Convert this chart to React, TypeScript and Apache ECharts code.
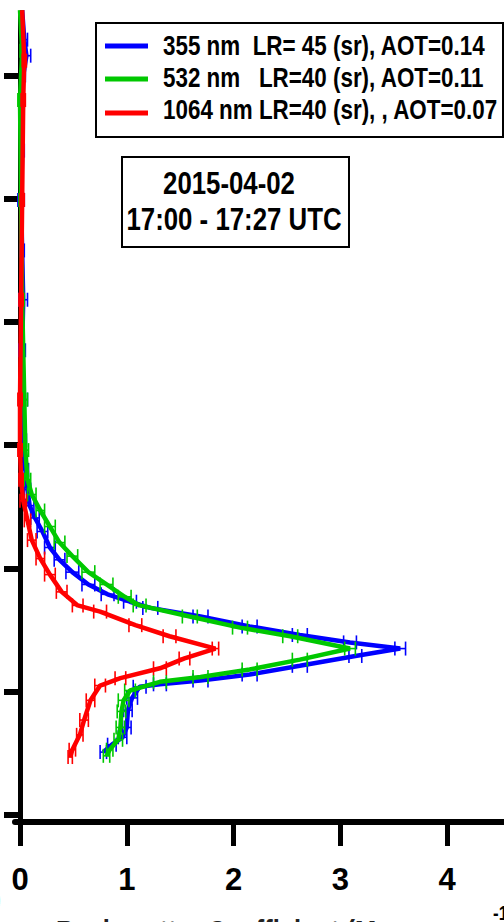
import React, { useEffect, useRef } from "react";
import * as echarts from "echarts";

// Series names (legend) and colours
const seriesNames = [
  "355 nm  LR= 45 (sr), AOT=0.14",
  "532 nm   LR=40 (sr), AOT=0.11",
  "1064 nm LR=40 (sr), , AOT=0.07",
];
const seriesColors = ["#0000ff", "#00c800", "#ff0000"];

// [backscatter (Mm-1 sr-1), altitude (km), error]
const profile355: number[][] = [
  [0.02, 7.53, 0], [0.04, 7.29, 0.03], [0.06, 7.16, 0.04], [0.03, 7.0, 0.02],
  [0.01, 6.8, 0.02], [0.02, 6.39, 0.02], [0.01, 5.99, 0.03], [0.02, 5.58, 0.02],
  [0.03, 5.18, 0.04], [0.02, 4.77, 0.03], [0.03, 4.37, 0.04], [0.03, 4.04, 0.03],
  [0.05, 3.8, 0.03], [0.07, 3.64, 0.03], [0.09, 3.51, 0.04], [0.14, 3.41, 0.04],
  [0.21, 3.3, 0.05], [0.28, 3.17, 0.05], [0.37, 3.07, 0.05], [0.49, 2.97, 0.06],
  [0.64, 2.87, 0.06], [0.82, 2.79, 0.06], [1.03, 2.73, 0.06], [1.22, 2.68, 0.07],
  [1.69, 2.61, 0.07], [2.15, 2.53, 0.07], [2.62, 2.46, 0.07], [3.09, 2.4, 0.06],
  [3.56, 2.35, 0.05], [3.14, 2.29, 0.06], [2.62, 2.21, 0.07], [2.15, 2.14, 0.07],
  [1.69, 2.09, 0.07], [1.31, 2.06, 0.06], [1.12, 2.04, 0.06], [1.05, 1.95, 0.05],
  [1.01, 1.85, 0.04], [1.0, 1.71, 0.04], [0.96, 1.63, 0.04], [0.86, 1.57, 0.04],
  [0.78, 1.51, 0.03],
];
const profile532: number[][] = [
  [0.0, 7.53, 0], [0.02, 7.2, 0.02], [0.0, 6.8, 0.02], [0.01, 5.99, 0.02],
  [0.02, 5.18, 0.02], [0.04, 4.37, 0.03], [0.05, 3.96, 0.03], [0.07, 3.72, 0.03],
  [0.11, 3.6, 0.04], [0.19, 3.47, 0.04], [0.28, 3.34, 0.05], [0.37, 3.21, 0.05],
  [0.49, 3.1, 0.05], [0.64, 2.97, 0.06], [0.81, 2.87, 0.06], [0.98, 2.77, 0.06],
  [1.12, 2.7, 0.06], [1.59, 2.61, 0.07], [2.06, 2.52, 0.07], [2.53, 2.45, 0.07],
  [3.09, 2.35, 0.05], [2.62, 2.26, 0.07], [2.15, 2.18, 0.07], [1.69, 2.12, 0.07],
  [1.31, 2.08, 0.06], [1.03, 2.01, 0.05], [0.97, 1.93, 0.05], [0.95, 1.84, 0.04],
  [0.94, 1.71, 0.04], [0.92, 1.61, 0.04], [0.84, 1.53, 0.03], [0.81, 1.48, 0.03],
];
const profile1064: number[][] = [
  [0.02, 7.53, 0], [0.04, 7.12, 0.02], [0.03, 6.8, 0.02], [0.02, 5.99, 0.02],
  [0.01, 5.18, 0.02], [0.0, 4.37, 0.02], [0.0, 3.96, 0.02], [0.01, 3.72, 0.02],
  [0.03, 3.55, 0.03], [0.07, 3.39, 0.03], [0.11, 3.23, 0.04], [0.19, 3.08, 0.04],
  [0.28, 2.95, 0.05], [0.39, 2.81, 0.05], [0.54, 2.7, 0.05], [0.75, 2.65, 0.06],
  [1.08, 2.54, 0.06], [1.4, 2.45, 0.06], [1.83, 2.35, 0.03], [1.54, 2.27, 0.05],
  [1.31, 2.19, 0.06], [0.94, 2.11, 0.05], [0.75, 2.05, 0.05], [0.66, 1.93, 0.04],
  [0.6, 1.77, 0.04], [0.56, 1.65, 0.03], [0.49, 1.53, 0.03], [0.47, 1.47, 0.02],
];

const xTickValues = [0, 1, 2, 3, 4, 5];
const xLabelValues = [0, 1, 2, 3, 4];
const yTickValues = [1, 2, 3, 4, 5, 6, 7];

const dateText = "2015-04-02";
const timeText = "17:00 - 17:27 UTC";
const xAxisTitle = "Backscatter Coefficient (Mm";
const xAxisTitleSup = "-1";

const FONT = "'Liberation Sans', Arial, sans-serif";

export default function App() {
  const ref = useRef<HTMLDivElement>(null);
  useEffect(() => {
    if (!ref.current) return;
    const chart = echarts.init(ref.current, undefined, { renderer: "svg" });
    const profiles = [profile355, profile532, profile1064];

    const lineSeries = profiles.map((p, i) => ({
      type: "line",
      name: seriesNames[i],
      data: p.map((d) => [d[0], d[1]]),
      showSymbol: false,
      symbol: "none",
      clip: false,
      lineStyle: { color: seriesColors[i], width: 4.5 },
      itemStyle: { color: seriesColors[i] },
      z: 3 + i,
    }));

    const errSeries = profiles.map((p, i) => ({
      type: "custom",
      name: seriesNames[i],
      data: p,
      encode: { x: 0, y: 1 },
      clip: false,
      z: 3 + i,
      renderItem: (_params: any, api: any) => {
        const x = api.value(0);
        const y = api.value(1);
        const e = api.value(2);
        if (!e) return null;
        const a = api.coord([x - e, y]);
        const b = api.coord([x + e, y]);
        const h = 7;
        const style = { stroke: seriesColors[i], lineWidth: 1.6 };
        return {
          type: "group",
          children: [
            { type: "line", shape: { x1: a[0], y1: a[1], x2: b[0], y2: b[1] }, style },
            { type: "line", shape: { x1: a[0], y1: a[1] - h, x2: a[0], y2: a[1] + h }, style },
            { type: "line", shape: { x1: b[0], y1: b[1] - h, x2: b[0], y2: b[1] + h }, style },
          ],
        };
      },
    }));

    const series: any[] = [];
    for (let i = 0; i < 3; i++) {
      series.push(lineSeries[i]);
      series.push(errSeries[i]);
    }

    // Legend drawn as a boxed graphic so that the narrow bold lettering can be matched
    const legendRowsY = [45, 77, 109];
    const legendLinesY = [46, 79, 113];
    const legendChildren: any[] = [
      {
        type: "rect",
        shape: { x: 96, y: 23, width: 407, height: 114 },
        style: { fill: "#fff", stroke: "#000", lineWidth: 2 },
      },
    ];
    seriesNames.forEach((name, i) => {
      legendChildren.push({
        type: "line",
        shape: { x1: 105, y1: legendLinesY[i], x2: 148, y2: legendLinesY[i] },
        style: { stroke: seriesColors[i], lineWidth: 5 },
      });
      legendChildren.push({
        type: "text",
        x: 163,
        y: legendRowsY[i],
        scaleX: 0.83,
        scaleY: 1.05,
        style: {
          text: name,
          font: `bold 27px ${FONT}`,
          fill: "#000",
          textAlign: "left",
          textVerticalAlign: "middle",
        },
      });
    });

    chart.setOption({
      animation: false,
      backgroundColor: "#fff",
      grid: {
        left: 15,
        top: 15,
        width: 539,
        height: 807,
        containLabel: false,
        outerBoundsMode: "none",
      },
      xAxis: {
        type: "value",
        min: -0.047,
        max: 5,
        axisLine: { show: true, lineStyle: { color: "#000", width: 6 } },
        axisTick: {
          show: true,
          inside: false,
          length: 24,
          customValues: xTickValues,
          lineStyle: { color: "#000", width: 5 },
        },
        axisLabel: {
          customValues: xLabelValues,
          margin: 42,
          fontSize: 31,
          fontWeight: "bold",
          fontFamily: FONT,
          color: "#000",
        },
        splitLine: { show: false },
      },
      yAxis: {
        type: "value",
        min: 0.943,
        max: 7.49,
        axisLine: { show: true, lineStyle: { color: "#000", width: 5 } },
        axisTick: {
          show: true,
          inside: false,
          length: 16,
          customValues: yTickValues,
          lineStyle: { color: "#000", width: 6 },
        },
        axisLabel: { show: false },
        splitLine: { show: false },
      },
      graphic: [
        { type: "group", z: 10, children: legendChildren },
        {
          type: "group",
          z: 10,
          children: [
            {
              type: "rect",
              shape: { x: 122, y: 157, width: 227, height: 90 },
              style: { fill: "#fff", stroke: "#000", lineWidth: 2 },
            },
            {
              type: "text",
              x: 229,
              y: 183,
              scaleX: 0.86,
              scaleY: 1.05,
              style: {
                text: dateText,
                font: `bold 30px ${FONT}`,
                fill: "#000",
                textAlign: "center",
                textVerticalAlign: "middle",
              },
            },
            {
              type: "text",
              x: 234,
              y: 219,
              scaleX: 0.86,
              scaleY: 1.05,
              style: {
                text: timeText,
                font: `bold 30px ${FONT}`,
                fill: "#000",
                textAlign: "center",
                textVerticalAlign: "middle",
              },
            },
          ],
        },
        {
          type: "text",
          x: 56,
          y: 916,
          scaleX: 0.85,
          style: { text: xAxisTitle, font: `bold 30px ${FONT}`, fill: "#222" },
        },
        {
          type: "text",
          x: 493,
          y: 903,
          scaleX: 0.85,
          style: { text: xAxisTitleSup, font: `bold 20px ${FONT}`, fill: "#000" },
        },
        {
          type: "text",
          x: -8,
          y: 882,
          scaleX: 0.85,
          style: { text: ")", font: `bold 32px ${FONT}`, fill: "#000" },
        },
      ],
      series,
    });
    return () => chart.dispose();
  }, []);
  return (
    <div
      ref={ref}
      style={{ position: "fixed", left: 0, top: 0, width: 504, height: 922, overflow: "hidden" }}
    />
  );
}
